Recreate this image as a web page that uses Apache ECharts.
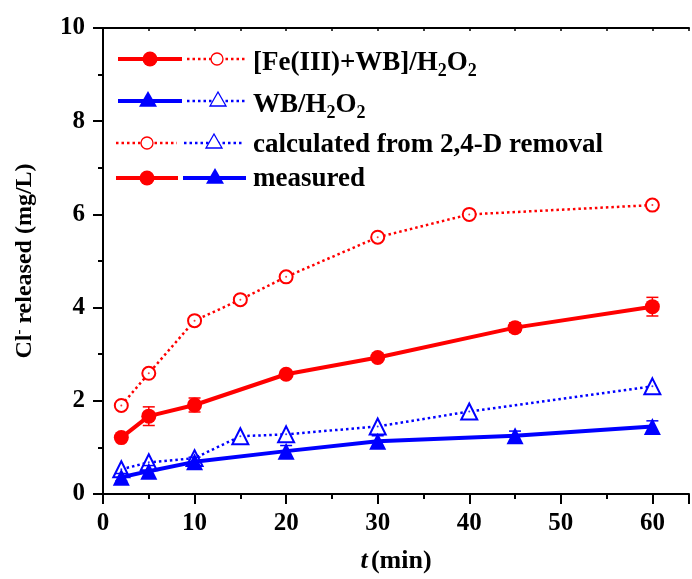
<!DOCTYPE html>
<html><head><meta charset="utf-8">
<script src="https://cdn.jsdelivr.net/npm/echarts@6/dist/echarts.min.js"></script>
<style>html,body{margin:0;padding:0;background:#fff}#c{width:692px;height:579px}</style>
</head><body><div id="c"></div>
<script>
// Data
var feCalcX = [2, 5, 10, 15, 20, 30, 40, 60];
var feCalcY = [1.90, 2.59, 3.72, 4.17, 4.66, 5.51, 6.00, 6.20];
var feMeasX = [2, 5, 10, 20, 30, 45, 60];
var feMeasY = [1.21, 1.67, 1.91, 2.57, 2.93, 3.57, 4.02];
var feMeasErr = [0.05, 0.20, 0.15, 0.05, 0.05, 0.10, 0.20];
var wbCalcX = [2, 5, 10, 15, 20, 30, 40, 60];
var wbCalcY = [0.53, 0.68, 0.77, 1.24, 1.28, 1.45, 1.77, 2.31];
var wbMeasX = [2, 5, 10, 20, 30, 45, 60];
var wbMeasY = [0.36, 0.49, 0.69, 0.92, 1.13, 1.25, 1.45];
var wbMeasErr = [0.08, 0.12, 0.10, 0.12, 0.12, 0.10, 0.12];
var xTicks = [0, 10, 20, 30, 40, 50, 60];
var yTicks = [0, 2, 4, 6, 8, 10];

function pairs(xs, ys) { return xs.map(function (x, i) { return [x, ys[i]]; }); }
function errData(xs, ys, es) { return xs.map(function (x, i) { return [x, ys[i] - es[i], ys[i] + es[i]]; }); }

var FONT = '"Liberation Serif","Times New Roman",serif';
var RED = '#ff0000', BLUE = '#0000ff';
var DOT = [2.5, 3];

function errSeries(xs, ys, es, color) {
  return {
    type: 'custom', data: errData(xs, ys, es), z: 3, silent: true,
    renderItem: function (params, api) {
      var lo = api.coord([api.value(0), api.value(1)]);
      var hi = api.coord([api.value(0), api.value(2)]);
      var w = 6;
      var st = { stroke: color, lineWidth: 1.5 };
      return { type: 'group', children: [
        { type: 'line', shape: { x1: lo[0], y1: lo[1], x2: hi[0], y2: hi[1] }, style: st },
        { type: 'line', shape: { x1: lo[0] - w, y1: lo[1], x2: lo[0] + w, y2: lo[1] }, style: st },
        { type: 'line', shape: { x1: hi[0] - w, y1: hi[1], x2: hi[0] + w, y2: hi[1] }, style: st }
      ]};
    }
  };
}

var option = {
  animation: false,
  backgroundColor: '#fff',
  grid: { left: 103, right: 2, top: 28, bottom: 83 },
  xAxis: [{
    type: 'value', min: 0, max: 64, interval: 10, position: 'bottom',
    name: '{i|t} {b|(min)}', nameLocation: 'middle', nameGap: 54,
    nameTextStyle: { rich: {
      i: { fontFamily: FONT, fontSize: 26, fontWeight: 'bold', fontStyle: 'italic', color: '#000' },
      b: { fontFamily: FONT, fontSize: 26, fontWeight: 'bold', color: '#000' } } },
    axisLine: { onZero: false, lineStyle: { color: '#000', width: 2 } },
    axisTick: { inside: false, length: 10, lineStyle: { color: '#000', width: 2 } },
    minorTick: { show: true, splitNumber: 2, length: 5, lineStyle: { color: '#000', width: 2 } },
    axisLabel: { margin: 17, fontFamily: FONT, fontSize: 25, fontWeight: 'bold', color: '#000',
      formatter: function (v) { return xTicks.indexOf(v) >= 0 ? String(v) : ''; } },
    splitLine: { show: false }
  }, {
    type: 'value', min: 0, max: 64, interval: 10, position: 'top',
    axisLine: { onZero: false, lineStyle: { color: '#000', width: 2 } },
    axisTick: { inside: true, length: 3, lineStyle: { color: '#000', width: 1.5 } },
    minorTick: { show: true, splitNumber: 2, length: 3, lineStyle: { color: '#000', width: 1.5 } },
    axisLabel: { show: false },
    splitLine: { show: false }
  }],
  yAxis: {
    type: 'value', min: 0, max: 10, interval: 2,
    name: '{b|Cl}{s|-}{b| released (mg/L)}', nameLocation: 'middle', nameGap: 66, nameRotate: 90,
    nameTextStyle: { rich: {
      b: { fontFamily: FONT, fontSize: 24, fontWeight: 'bold', color: '#000' },
      s: { fontFamily: FONT, fontSize: 15, fontWeight: 'bold', color: '#000', verticalAlign: 'top', padding: [0, 0, 10, 0] } } },
    axisLine: { show: true, lineStyle: { color: '#000', width: 2 } },
    axisTick: { show: true, inside: false, length: 10, lineStyle: { color: '#000', width: 2 } },
    minorTick: { show: true, splitNumber: 2, length: 5, lineStyle: { color: '#000', width: 2 } },
    axisLabel: { margin: 18, fontFamily: FONT, fontSize: 25, fontWeight: 'bold', color: '#000',
      formatter: function (v) { return yTicks.indexOf(v) >= 0 ? String(v) : ''; } },
    splitLine: { show: false }
  },
  series: [
    { type: 'line', data: pairs(feCalcX, feCalcY), symbol: 'emptyCircle', symbolSize: 13,
      lineStyle: { color: RED, width: 2.5, type: DOT }, itemStyle: { color: RED, borderColor: RED, borderWidth: 1.3 }, z: 2 },
    { type: 'line', data: pairs(wbCalcX, wbCalcY), symbol: 'emptyTriangle', symbolSize: 16,
      lineStyle: { color: BLUE, width: 2.5, type: DOT }, itemStyle: { color: BLUE, borderColor: BLUE, borderWidth: 1.3 }, z: 2 },
    { type: 'scatter', data: pairs(feCalcX, feCalcY), symbol: 'circle', symbolSize: 2, itemStyle: { color: RED }, z: 4 },
    { type: 'scatter', data: pairs(wbCalcX, wbCalcY), symbol: 'circle', symbolSize: 2, itemStyle: { color: BLUE }, z: 4 },
    errSeries(feMeasX, feMeasY, feMeasErr, RED),
    errSeries(wbMeasX, wbMeasY, wbMeasErr, BLUE),
    { type: 'line', data: pairs(feMeasX, feMeasY), symbol: 'circle', symbolSize: 15,
      lineStyle: { color: RED, width: 4 }, itemStyle: { color: RED }, z: 5 },
    { type: 'line', data: pairs(wbMeasX, wbMeasY), symbol: 'triangle', symbolSize: 17,
      lineStyle: { color: BLUE, width: 4 }, itemStyle: { color: BLUE }, z: 5 }
  ],
  graphic: []
};

// Legend (custom compound entries)
function seg(x1, x2, y, color, dotted) {
  return { type: 'line', shape: { x1: x1, y1: y, x2: x2, y2: y },
    style: { stroke: color, lineWidth: dotted ? 2.5 : 4, lineDash: dotted ? DOT : null } };
}
function circ(x, y, color, open) {
  return { type: 'circle', shape: { cx: x, cy: y, r: open ? 6 : 7.5 }, z: 10,
    style: open ? { fill: '#fff', stroke: color, lineWidth: 1.3 } : { fill: color } };
}
function tri(x, y, color, open) {
  var s = open ? 8 : 9;
  return { type: 'polygon', z: 10, shape: { points: [[x, y - s], [x + s, y + s * 0.75], [x - s, y + s * 0.75]] },
    style: open ? { fill: '#fff', stroke: color, lineWidth: 1.3 } : { fill: color } };
}
function label(x, y, rt) {
  return { type: 'text', x: x, y: y, z: 10, style: { text: rt, fontFamily: FONT, fontSize: 27, fontWeight: 'bold', fill: '#000', verticalAlign: 'middle',
    rich: { b: { fontFamily: FONT, fontSize: 27, fontWeight: 'bold', fill: '#000' },
            sub: { fontFamily: FONT, fontSize: 18, fontWeight: 'bold', fill: '#000', padding: [16, 0, 0, 0] } } } };
}
var g = [];
// row 1
g.push(seg(118, 182, 59, RED, false), circ(150, 59, RED, false), seg(187, 247, 59, RED, true), circ(217, 59, RED, true));
g.push(label(253, 63, '{b|[Fe(III)+WB]/H}{sub|2}{b|O}{sub|2}'));
// row 2
g.push(seg(118, 182, 101, BLUE, false), tri(148, 100, BLUE, false), seg(187, 247, 101, BLUE, true), tri(218, 100, BLUE, true));
g.push(label(253, 105, '{b|WB/H}{sub|2}{b|O}{sub|2}'));
// row 3
g.push(seg(116, 177, 143, RED, true), circ(147, 143, RED, true), seg(184, 244, 143, BLUE, true), tri(214, 142, BLUE, true));
g.push(label(253, 145, '{b|calculated from 2,4-D removal}'));
// row 4
g.push(seg(116, 178, 178, RED, false), circ(147, 178, RED, false), seg(183, 246, 178, BLUE, false), tri(215, 177, BLUE, false));
g.push(label(253, 179, '{b|measured}'));
option.graphic = g;

var chart = echarts.init(document.getElementById('c'), null, { renderer: 'canvas' });
chart.setOption(option);
</script>
</body></html>
